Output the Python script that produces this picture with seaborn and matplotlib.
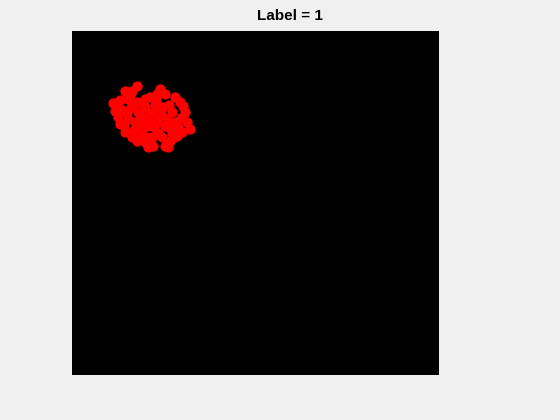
import numpy as np
import pandas as pd
import matplotlib
matplotlib.use("Agg")
import matplotlib.pyplot as plt
import seaborn as sns

# background grid of points (all black)
grid_x = np.linspace(0, 1, 122)
grid_y = np.linspace(0, 1, 115)

# points with label 1 (red), in axes units
red_x = [0.178, 0.164, 0.145, 0.240, 0.232, 0.254, 0.126, 0.117, 0.281, 0.295,
         0.309, 0.314, 0.322, 0.301, 0.287, 0.268, 0.254, 0.262, 0.221, 0.208,
         0.199, 0.178, 0.164, 0.145, 0.131, 0.126, 0.153, 0.180, 0.199, 0.227,
         0.249, 0.273, 0.281, 0.254, 0.232, 0.208, 0.191, 0.172, 0.235, 0.219,
         0.273, 0.199, 0.153, 0.178, 0.208, 0.235, 0.191, 0.260, 0.178, 0.235,
         0.112, 0.290, 0.150, 0.214, 0.137, 0.161, 0.186, 0.213, 0.243, 0.266,
         0.298, 0.142, 0.169, 0.224, 0.246, 0.279, 0.303, 0.197, 0.230, 0.158,
         0.131, 0.265, 0.292, 0.205]
red_y = [0.840, 0.825, 0.825, 0.831, 0.816, 0.816, 0.781, 0.767, 0.808, 0.793,
         0.764, 0.735, 0.714, 0.706, 0.694, 0.679, 0.665, 0.662, 0.665, 0.662,
         0.676, 0.679, 0.691, 0.706, 0.729, 0.749, 0.743, 0.764, 0.778, 0.784,
         0.778, 0.764, 0.735, 0.723, 0.735, 0.723, 0.714, 0.735, 0.703, 0.691,
         0.703, 0.802, 0.802, 0.793, 0.743, 0.749, 0.691, 0.743, 0.714, 0.770,
         0.790, 0.720, 0.760, 0.808, 0.770, 0.779, 0.755, 0.760, 0.758, 0.785,
         0.745, 0.725, 0.710, 0.720, 0.690, 0.690, 0.780, 0.735, 0.800, 0.812,
         0.800, 0.720, 0.705, 0.690]

grid = pd.DataFrame([(x, y) for x in grid_x for y in grid_y], columns=["x", "y"])
red = pd.DataFrame({"x": red_x, "y": red_y})

sns.set_style("white")
plt.rcParams["font.family"] = ["Liberation Sans", "DejaVu Sans"]

fig = plt.figure(figsize=(5.6, 4.2), dpi=100)
fig.patch.set_facecolor("#f0f0f0")
ax = fig.add_axes([72 / 560, 46 / 420, 366 / 560, 343 / 420])

sns.scatterplot(data=grid, x="x", y="y", ax=ax, color="black", s=20,
                linewidth=0, legend=False)
sns.scatterplot(data=red, x="x", y="y", ax=ax, color="red", s=55,
                linewidth=0, legend=False)

ax.set_xlim(0, 1)
ax.set_ylim(0, 1)
ax.axis("off")

fig.text(290 / 560, 400 / 420, "Label = 1", ha="center", va="baseline",
         fontsize=11, fontweight="bold", color="black")

fig.savefig("out.png", dpi=100, facecolor=fig.get_facecolor())
